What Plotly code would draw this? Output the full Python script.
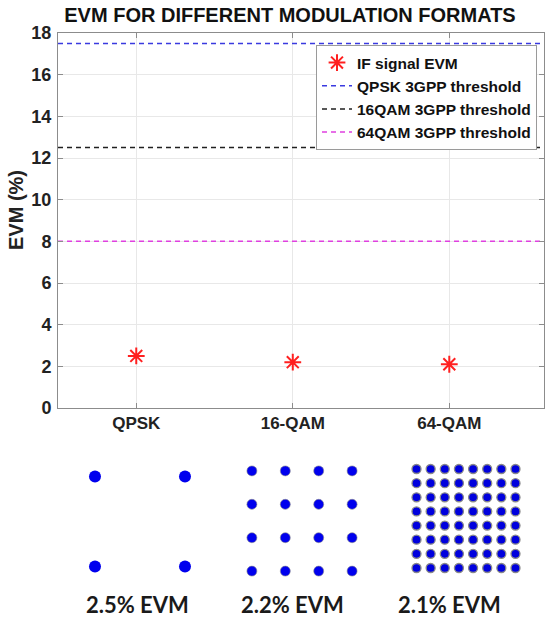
import plotly.graph_objects as go

# ---- data ----
categories = ["QPSK", "16-QAM", "64-QAM"]
cat_pos = [1, 2, 3]
evm_values = [2.5, 2.2, 2.1]
thresholds = {"QPSK 3GPP threshold": 17.5,
              "16QAM 3GPP threshold": 12.5,
              "64QAM 3GPP threshold": 8.0}
threshold_colors = ["#3a3ae0", "#202020", "#e040e0"]
y_ticks = [0, 2, 4, 6, 8, 10, 12, 14, 16, 18]
evm_labels = ["2.5% EVM", "2.2% EVM", "2.1% EVM"]
qpsk_levels = [-1, 1]
qam16_levels = [-3, -1, 1, 3]
qam64_levels = [-7, -5, -3, -1, 1, 3, 5, 7]

W, H = 545, 619
L, R, T, B = 58, 1, 33, 0
PW, PH = W - L - R, H - T - B

def px_x(p):
    return (p - L) / PW

def px_y(p):
    return (H - B - p) / PH

x_range = [0.5, 3.605]

fig = go.Figure()

fig.add_trace(go.Scatter(
    x=cat_pos, y=evm_values, mode="markers", name="IF signal EVM",
    marker=dict(symbol="asterisk-open", size=14, color="#ff2020",
                line=dict(color="#ff2020", width=2)),
    xaxis="x", yaxis="y"))

for (name, val), col in zip(thresholds.items(), threshold_colors):
    fig.add_trace(go.Scatter(
        x=x_range, y=[val, val], mode="lines", name=name,
        line=dict(color=col, width=1.5, dash="5px,4px"),
        xaxis="x", yaxis="y"))

# constellations
const_sets = [
    (qpsk_levels, "x2", "y2", 12, "#0000ee", 0),
    (qam16_levels, "x3", "y3", 10, "#0000ee", 0.6),
    (qam64_levels, "x4", "y4", 9, "#0000dd", 1.3),
]
for lv, xa, ya, sz, col, lw in const_sets:
    xs = [i for i in lv for q in lv]
    ys = [q for i in lv for q in lv]
    fig.add_trace(go.Scatter(
        x=xs, y=ys, mode="markers", showlegend=False,
        marker=dict(size=sz, color=col,
                    line=dict(color="#8a8a8a", width=lw)),
        xaxis=xa, yaxis=ya, hoverinfo="skip"))

axis_common = dict(showline=True, linecolor="#8c8c8c", linewidth=1,
                   mirror="ticks", ticks="inside", ticklen=5,
                   tickcolor="#8c8c8c", showgrid=True, automargin=False,
                   gridcolor="#e8e8e8", gridwidth=1, zeroline=False,
                   tickfont=dict(family="Liberation Sans", size=18,
                                 color="#222222"))

hidden = dict(visible=False, showgrid=False, zeroline=False)

layout = dict(
    width=W, height=H,
    margin=dict(l=L, r=R, t=T, b=B, pad=0, autoexpand=False),
    paper_bgcolor="white", plot_bgcolor="white",
    title=dict(text="<b>EVM FOR DIFFERENT MODULATION FORMATS</b>",
               x=290 / W, xanchor="center", xref="container",
               y=1 - 15 / H, yanchor="middle", automargin=False,
               font=dict(family="Liberation Sans", size=20, color="#111111")),
    xaxis=dict(axis_common, range=x_range, tickmode="array",
               tickvals=cat_pos, ticktext=["<b>%s</b>" % c for c in categories],
               anchor="y", domain=[0, 1], ticklabelstandoff=0,
               tickfont=dict(family="Liberation Sans", size=17,
                             color="#222222")),
    yaxis=dict(axis_common, range=[0, 18], tickmode="array",
               tickvals=y_ticks, ticktext=["<b>%d</b>" % t for t in y_ticks],
               anchor="x", domain=[px_y(408), 1], ticklabelstandoff=2),
    legend=dict(x=px_x(316), y=px_y(45), xanchor="left", yanchor="top",
                bgcolor="white", bordercolor="#9a9a9a", borderwidth=1,
                font=dict(family="Liberation Sans", size=15.5,
                          color="#111111", weight="bold"),
                itemwidth=30, tracegroupgap=0),
    showlegend=True,
)

# constellation axes: (name, center x px, center y px, px per unit)
boxes = [("2", 140, 521.5, 45.0),
         ("3", 302, 521, 16.7),
         ("4", 466, 518.5, 7.07)]
for n, cx, cy, ppu in boxes:
    half = 65
    layout["xaxis" + n] = dict(hidden, domain=[px_x(cx - half), px_x(cx + half)],
                               range=[-half / ppu, half / ppu], anchor="y" + n)
    layout["yaxis" + n] = dict(hidden, domain=[px_y(cy + half), px_y(cy - half)],
                               range=[-half / ppu, half / ppu], anchor="x" + n)

fig.update_layout(**layout)

fig.add_annotation(text="<b>EVM (%)</b>", x=px_x(16), y=px_y(210),
                   xref="paper", yref="paper", showarrow=False,
                   textangle=-90, xanchor="center", yanchor="middle",
                   font=dict(family="Liberation Sans", size=20, color="#222222"))

label_x = [137, 292, 449]
for lab, lx in zip(evm_labels, label_x):
    fig.add_annotation(text=lab, x=px_x(lx), y=px_y(604), xref="paper",
                       yref="paper", showarrow=False, xanchor="center",
                       yanchor="middle",
                       font=dict(family="Lato", size=22, color="#1a1a1a",
                                 weight="bold"))

fig.write_html("out.html", config={"displayModeBar": False},
               post_script="document.body.style.margin='0';")
